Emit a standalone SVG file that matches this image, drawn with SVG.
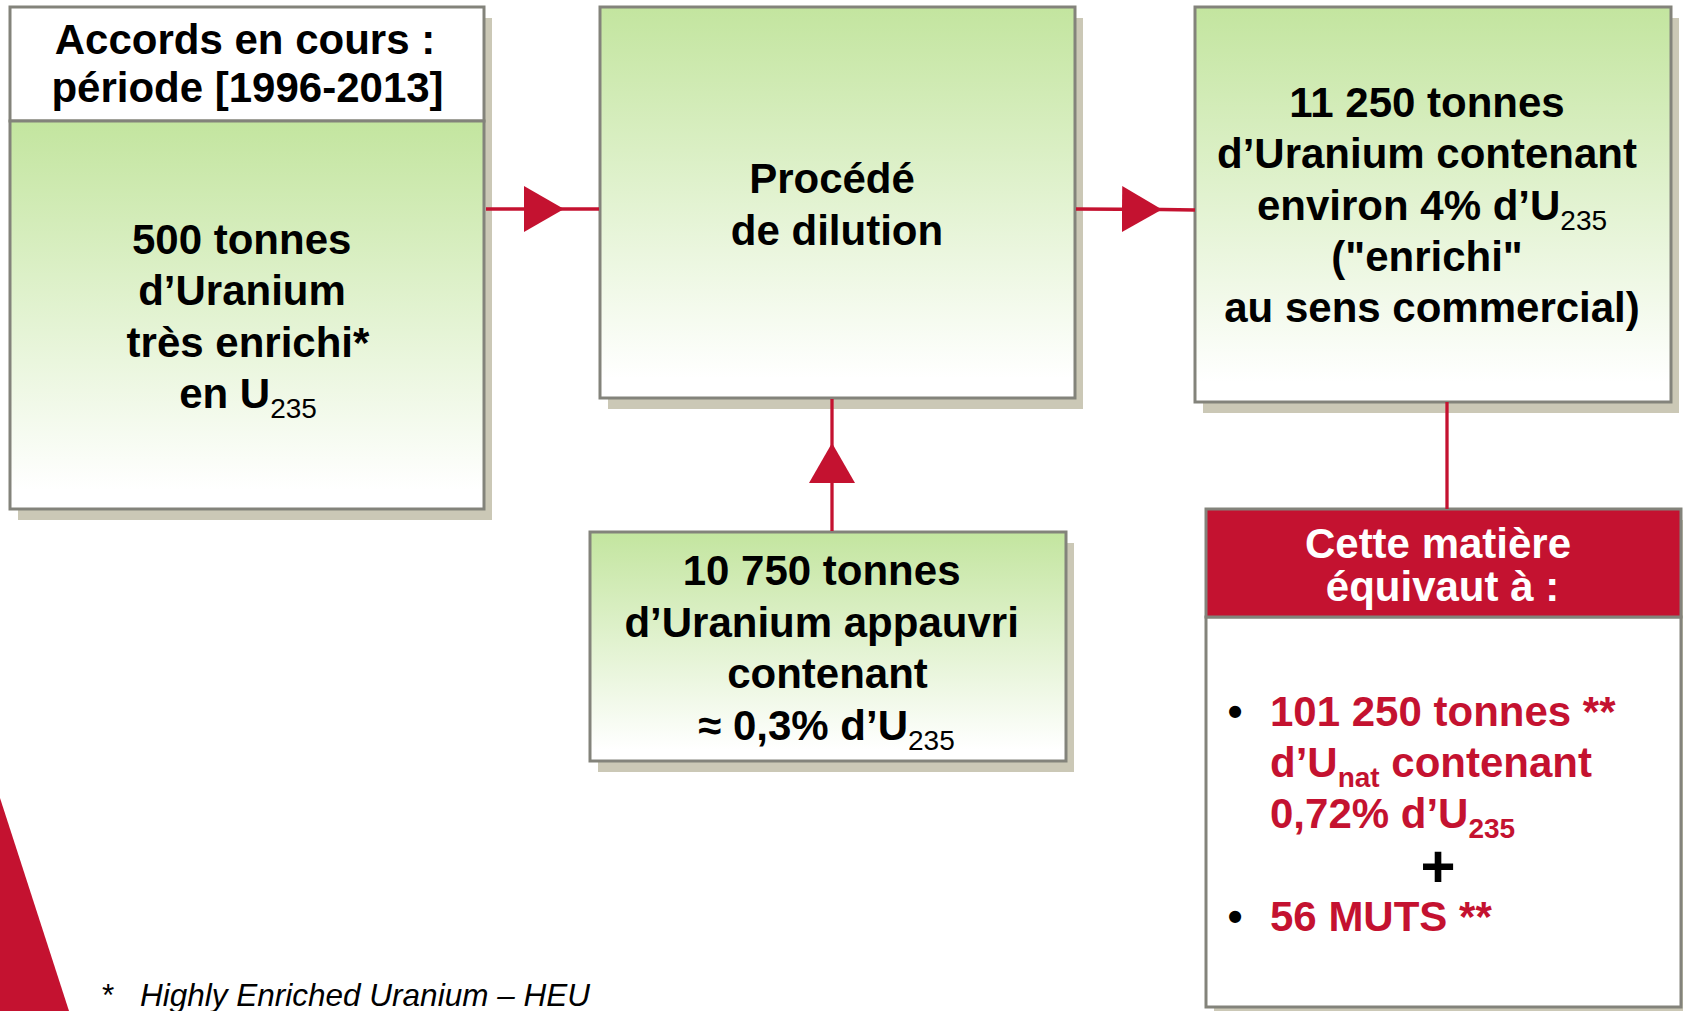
<svg xmlns="http://www.w3.org/2000/svg" width="1683" height="1011" viewBox="0 0 1683 1011">
<defs>
<linearGradient id="green" x1="0" y1="0" x2="0" y2="1">
<stop offset="0" stop-color="#c3e59f"/>
<stop offset="0.95" stop-color="#ffffff"/>
<stop offset="1" stop-color="#ffffff"/>
</linearGradient>
<marker id="tri" markerUnits="userSpaceOnUse" viewBox="0 0 40 46" refX="40" refY="23" markerWidth="40" markerHeight="46" orient="auto">
<path d="M0,0 L40,23 L0,46 Z" fill="#c41230"/>
</marker>
<style>
.box{stroke:#83837b;stroke-width:3}
.shadow{fill:#cbc8b6}
.green{fill:url(#green)}
.t{font-family:"Liberation Sans",Arial,sans-serif;font-weight:bold;font-size:42px;fill:#000;text-anchor:middle}
.sub{font-weight:normal;font-size:28px}
.subb{font-size:28px}
.red{fill:#c41230}
.white{fill:#fff}
.left{text-anchor:start}
.conn{stroke:#c41230;stroke-width:3.3;fill:none}
.foot{font-family:"Liberation Sans",Arial,sans-serif;font-style:italic;font-size:31.5px;fill:#000}
</style>
</defs>
<rect width="1683" height="1011" fill="#fff"/>
<polygon points="0,798 69,1011 0,1011" fill="#c41230"/>

<g id="node-heu">
<rect class="shadow" x="18" y="18" width="474" height="502"/>
<rect class="box" x="10" y="7" width="474" height="114" fill="#fff"/>
<rect class="box green" x="10" y="121" width="474" height="388"/>
<text class="t" x="245" y="54">Accords en cours :</text>
<text class="t" x="247.5" y="101.5">période [1996-2013]</text>
<text class="t" x="241.7" y="254">500 tonnes</text>
<text class="t" x="242" y="305">d’Uranium</text>
<text class="t" x="248" y="357">très enrichi*</text>
<text class="t" x="248" y="408">en U<tspan class="sub" dy="10">235</tspan></text>
</g>

<g id="node-dilution">
<rect class="shadow" x="608" y="18" width="475" height="391"/>
<rect class="box green" x="600" y="7" width="475" height="391"/>
<text class="t" x="832" y="193">Procédé</text>
<text class="t" x="837" y="245">de dilution</text>
</g>

<g id="node-leu">
<rect class="shadow" x="1203" y="18" width="476" height="395"/>
<rect class="box green" x="1195" y="7" width="476" height="395"/>
<text class="t" x="1427" y="117">11 250 tonnes</text>
<text class="t" x="1427" y="168">d’Uranium contenant</text>
<text class="t" x="1432" y="220">environ 4% d’U<tspan class="sub" dy="10">235</tspan></text>
<text class="t" x="1427" y="271">("enrichi"</text>
<text class="t" x="1432" y="322">au sens commercial)</text>
</g>

<g id="node-depleted">
<rect class="shadow" x="598" y="543" width="476" height="229"/>
<rect class="box green" x="590" y="532" width="476" height="229"/>
<text class="t" x="821.6" y="585">10 750 tonnes</text>
<text class="t" x="821.6" y="637">d’Uranium appauvri</text>
<text class="t" x="827.5" y="688">contenant</text>
<text class="t" x="826.5" y="740">≈ 0,3% d’U<tspan class="sub" dy="10">235</tspan></text>
</g>

<g id="node-equivalent">
<rect class="shadow" x="1214" y="520" width="475" height="498"/>
<rect class="box" x="1206" y="617" width="475" height="390" fill="#fff"/>
<rect class="box" x="1206" y="509" width="475" height="108" fill="#c41230"/>
<text class="t white" x="1438" y="558">Cette matière</text>
<text class="t white" x="1442.5" y="600.5">équivaut à :</text>
<text class="t" x="1235" y="726">•</text>
<text class="t red left" x="1270" y="726">101 250 tonnes **</text>
<text class="t red left" x="1270" y="777">d’U<tspan class="subb" dy="10">nat</tspan><tspan dy="-10"> contenant</tspan></text>
<text class="t red left" x="1270" y="828">0,72% d’U<tspan class="subb" dy="10">235</tspan></text>
<text class="t" x="1438" y="887" style="font-size:60px">+</text>
<text class="t" x="1235" y="931">•</text>
<text class="t red left" x="1270" y="931">56 MUTS **</text>
</g>

<g id="connectors">
<path class="conn" d="M486,209 L564,209 L599,209" marker-mid="url(#tri)"/>
<path class="conn" d="M1076,209 L1162,209.5 L1195,210" marker-mid="url(#tri)"/>
<path class="conn" d="M832,531 L832,443 L832,399" marker-mid="url(#tri)"/>
<path class="conn" d="M1447,402 L1447,509"/>
</g>

<g id="footnote">
<text class="foot" x="102" y="1006" style="font-style:normal">*</text>
<text class="foot" x="140" y="1006">Highly Enriched Uranium – HEU</text>
</g>
</svg>
